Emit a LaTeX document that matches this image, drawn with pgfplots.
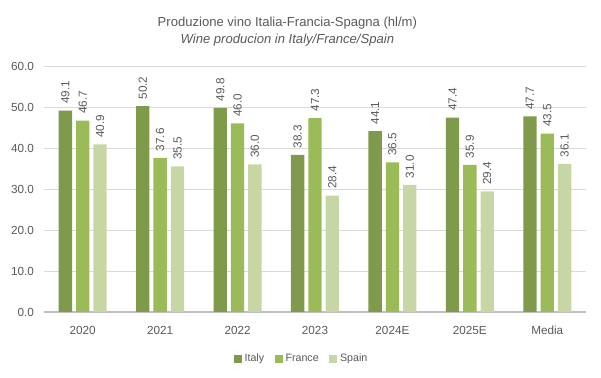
\documentclass[border=0pt]{standalone}
\usepackage{pgfplots}
\pgfplotsset{compat=1.18}
\usepackage{fontspec}
\setmainfont{Liberation Sans}
\definecolor{cItaly}{HTML}{7E9A4A}
\definecolor{cFrance}{HTML}{9BBB59}
\definecolor{cSpain}{HTML}{C6D7A5}
\definecolor{txt}{HTML}{595959}
\definecolor{grid}{HTML}{D9D9D9}
\begin{document}
\begin{tikzpicture}
\useasboundingbox (-33pt,-49.5pt) rectangle (417.75pt,234pt);
\begin{axis}[
  at={(0,0)}, anchor=south west,
  scale only axis, width=406.5pt, height=184.5pt,
  ybar=3pt, bar width=10pt,
  xmin=-0.5, xmax=6.5, ymin=0, ymax=60,
  xtick={0,...,6},
  xticklabels={2020,2021,2022,2023,2024E,2025E,Media},
  ytick={0,10,...,60},
  yticklabel style={xshift=-4pt, /pgf/number format/.cd,fixed,fixed zerofill,precision=1},
  /pgf/number format/assume math mode=true,
  ymajorgrids, xmajorgrids=false,
  y grid style={grid, line width=0.6pt},
  axis x line*=bottom, axis y line*=left,
  y axis line style={draw=none},
  x axis line style={draw=black!25, line width=0.8pt, -},
  major tick length=0pt,
  tick label style={font=\fontsize{8.8}{10}\selectfont, text=txt},
  xticklabel style={yshift=-7pt},
  tick style={draw=none},
  nodes near coords,
  nodes near coords style={rotate=90, anchor=west, xshift=1.5pt, font=\fontsize{8.8}{10}\selectfont, text=txt,
    /pgf/number format/.cd, fixed, fixed zerofill, precision=1, assume math mode=true},
  legend style={at={(0.476,-0.19)}, anchor=center, draw=none, legend columns=3,
    font=\fontsize{8}{10}\selectfont, text=txt,
    /tikz/every even column/.append style={column sep=6pt}},
  legend image code/.code={\fill[#1] (0pt,-3pt) rectangle (6pt,3pt);},
  clip=false,
]
\addplot[fill=cItaly, draw=none] coordinates {(0,49.1) (1,50.2) (2,49.8) (3,38.3) (4,44.1) (5,47.4) (6,47.7)};
\addplot[fill=cFrance, draw=none] coordinates {(0,46.7) (1,37.6) (2,46.0) (3,47.3) (4,36.5) (5,35.9) (6,43.5)};
\addplot[fill=cSpain, draw=none] coordinates {(0,40.9) (1,35.5) (2,36.0) (3,28.4) (4,31.0) (5,29.4) (6,36.1)};
\legend{Italy,France,Spain}
\node[text=txt, font=\fontsize{9.8}{11.5}\selectfont, align=center] at (axis description cs:0.449,1.14)
  {Produzione vino Italia-Francia-Spagna (hl/m)\\[1.5pt]\itshape Wine producion in Italy/France/Spain};
\end{axis}
\end{tikzpicture}
\end{document}
